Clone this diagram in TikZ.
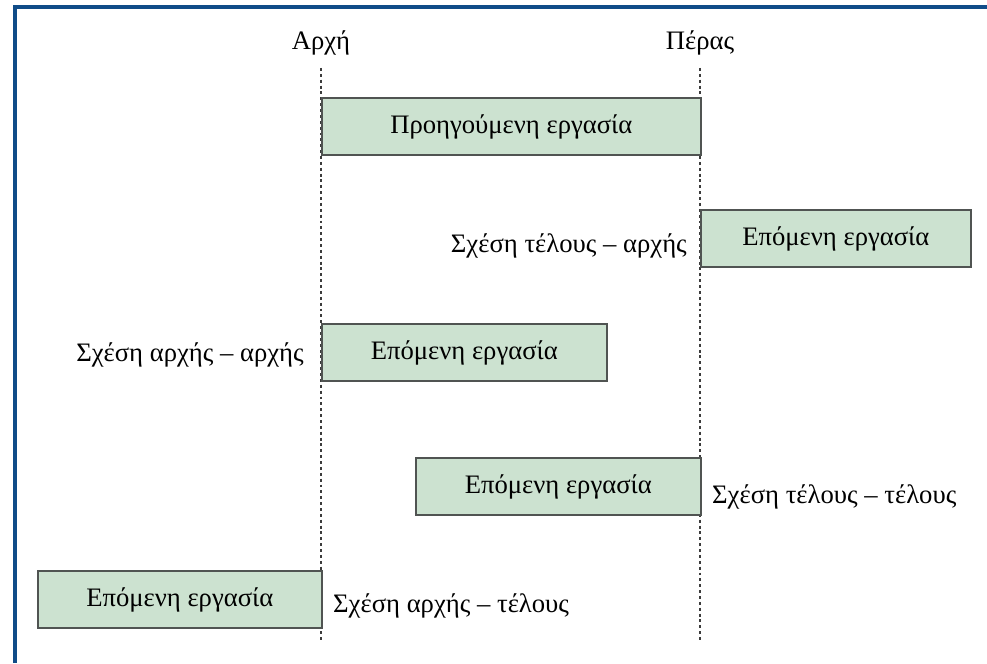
\documentclass[tikz,border=0pt]{standalone}
\usepackage{fontspec}
\setmainfont{Liberation Serif}
\definecolor{boxgreen}{RGB}{204,226,208}
\definecolor{framblue}{RGB}{16,76,136}
\tikzset{
  task/.style={draw={rgb,255:red,80;green,84;blue,82}, fill=boxgreen, line width=1.2pt, inner sep=0pt, anchor=north west, minimum height=43pt, font=\fontsize{20}{24}\selectfont},
  guide/.style={dash pattern={on 2.2pt off 2.2pt}, line width=0.8pt, draw={rgb,255:red,60;green,60;blue,60}},
  rel/.style={inner sep=0.75pt, font=\fontsize{20}{24}\selectfont}
}
\begin{document}
\begin{tikzpicture}[x=0.75pt,y=0.75pt,yscale=-1,xscale=1]
\useasboundingbox (0,0) rectangle (987,663);
\fill[white] (0,0) rectangle (987,663);
% frame
\draw[framblue, line width=3pt] (15.3,663) -- (15.3,7) -- (987,7);

% start / end marks
\node[rel, anchor=base] (arxi) at (321,50) {Αρχή};
\node[rel, anchor=base] (peras) at (700,50) {Πέρας};
\coordinate (arxiEnd) at (321,640);
\coordinate (perasEnd) at (700,640);
\draw[guide] (321,68) -- (arxiEnd);
\draw[guide] (700,68) -- (perasEnd);

% tasks
\node[task, minimum width=284.25pt] (prev) at (321,97) {Προηγούμενη εργασία};
\node[task, minimum width=202.5pt] (fs) at (700,209) {Επόμενη εργασία};
\node[task, minimum width=213.75pt] (ss) at (321,323) {Επόμενη εργασία};
\node[task, minimum width=213.75pt] (ff) at (415,457) {Επόμενη εργασία};
\node[task, minimum width=213pt] (sf) at (37,570) {Επόμενη εργασία};

% relation labels (yshift is flipped by yscale=-1)
\node[rel, anchor=base east] (fsLabel) at ([xshift=-9pt,yshift=10.5pt]fs.west) {Σχέση τέλους – αρχής};
\node[rel, anchor=base east] (ssLabel) at ([xshift=-12pt,yshift=6.5pt]ss.west) {Σχέση αρχής – αρχής};
\node[rel, anchor=base west] (ffLabel) at ([xshift=7pt,yshift=12.4pt]ff.east) {Σχέση τέλους – τέλους};
\node[rel, anchor=base west] (sfLabel) at ([xshift=7pt,yshift=9.75pt]sf.east) {Σχέση αρχής – τέλους};

\end{tikzpicture}
\end{document}
